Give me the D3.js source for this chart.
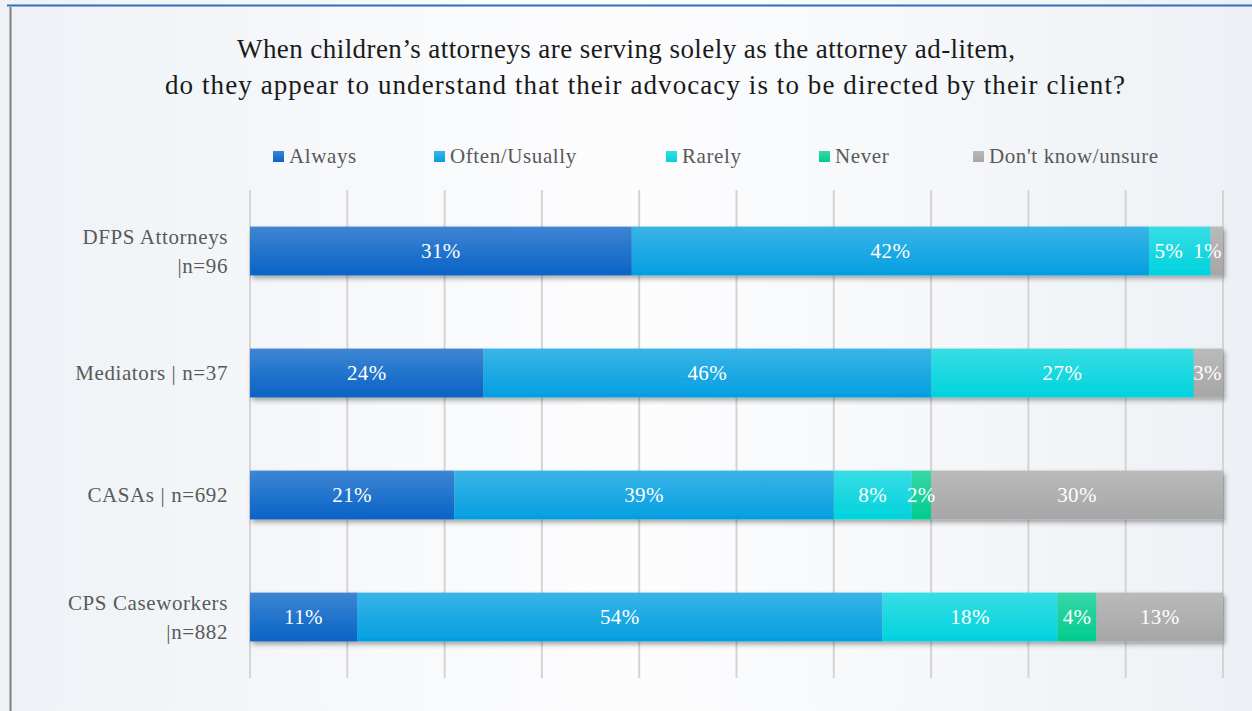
<!DOCTYPE html>
<html>
<head>
  <meta charset="utf-8">
  <title>Attorney ad-litem advocacy</title>
  <style>
    body { margin: 0; background: #fff; }
    text { font-family: "Liberation Serif", "DejaVu Serif", serif; }
    .grid line { stroke: #d4d4d4; stroke-width: 2; }
  </style>
  <script src="https://d3js.org/d3.v7.min.js"></script>
</head>
<body>
  <script>
    var groups = ["DFPS Attorneys\n|n=96", "Mediators | n=37", "CASAs | n=692", "CPS Caseworkers\n|n=882"];
    var series = ["Always", "Often/Usually", "Rarely", "Never", "Don't know/unsure"];
    var always = [31, 24, 21, 11];
    var often = [42, 46, 39, 54];
    var rarely = [5, 27, 8, 18];
    var never = [0, 0, 2, 4];
    var unsure = [1, 3, 30, 13];
    var colors = ["#0863c6", "#039fe0", "#00d3dd", "#00cc8e", "#a6a6a6"];
    var titleLines = ["When children\u2019s attorneys are serving solely as the attorney ad-litem,",
                      "do they appear to understand that their advocacy is to be directed by their client?"];

    var width = 1252, height = 711;
    var margin = {left: 250, right: 29, top: 190, bottom: 33};

    var rows = groups.map(function(g, i) {
      return {group: g, "Always": always[i], "Often/Usually": often[i], "Rarely": rarely[i],
              "Never": never[i], "Don't know/unsure": unsure[i]};
    });

    var stack = d3.stack().keys(series).offset(d3.stackOffsetExpand);
    var layers = stack(rows);

    var svg = d3.select("body").append("svg")
      .attr("width", width)
      .attr("height", height);

    var defs = svg.append("defs");
    var bg = defs.append("linearGradient").attr("id", "bg").attr("x1", 0).attr("x2", 1);
    bg.append("stop").attr("offset", "0").attr("stop-color", "#eef2f6");
    bg.append("stop").attr("offset", "0.5").attr("stop-color", "#fdfdfe");
    bg.append("stop").attr("offset", "1").attr("stop-color", "#edf1f5");

    colors.forEach(function(c, i) {
      var gr = defs.append("linearGradient").attr("id", "fill" + i)
        .attr("x1", 0).attr("x2", 0).attr("y1", 0).attr("y2", 1);
      gr.append("stop").attr("offset", "0").attr("stop-color", d3.interpolateRgb(c, "#fff")(0.22));
      gr.append("stop").attr("offset", "1").attr("stop-color", c);
    });

    var shadow = defs.append("filter").attr("id", "shadow")
      .attr("x", "-5%").attr("y", "-20%").attr("width", "110%").attr("height", "160%");
    shadow.append("feDropShadow")
      .attr("dx", 2).attr("dy", 3).attr("stdDeviation", 2.5)
      .attr("flood-color", "#000").attr("flood-opacity", 0.35);

    svg.append("rect").attr("width", width).attr("height", height).attr("fill", "url(#bg)");
    svg.append("line").attr("x1", 7).attr("x2", width).attr("y1", 5.5).attr("y2", 5.5)
      .attr("stroke", "#2f6fbd").attr("stroke-width", 2);
    svg.append("line").attr("x1", 10.5).attr("x2", 10.5).attr("y1", 7).attr("y2", height)
      .attr("stroke", "#7f7f7f").attr("stroke-width", 2);

    // title
    var titleWidths = [778, 960];
    svg.append("g").selectAll("text")
      .data(titleLines)
      .join("text")
        .attr("x", (d, i) => i ? 645 : 626)
        .attr("y", (d, i) => 58 + i * 36)
        .attr("text-anchor", "middle")
        .attr("font-size", 27)
        .attr("fill", "#1a1a1a")
        .attr("textLength", (d, i) => titleWidths[i])
        .attr("lengthAdjust", "spacing")
        .text(d => d);

    var x = d3.scaleLinear()
      .domain([0, 1])
      .range([margin.left, width - margin.right]);

    var y = d3.scaleBand()
      .domain(groups)
      .range([margin.top, height - margin.bottom])
      .paddingInner(0.6)
      .paddingOuter(0.3);

    svg.append("g")
      .attr("class", "grid")
      .selectAll("line")
      .data(x.ticks(10))
      .join("line")
        .attr("x1", d => x(d)).attr("x2", d => x(d))
        .attr("y1", margin.top).attr("y2", height - margin.bottom);

    // legend
    var legendX = [273, 434, 666, 819, 973];
    var legend = svg.append("g").selectAll("g")
      .data(series)
      .join("g")
        .attr("transform", (d, i) => "translate(" + legendX[i] + ",151)");
    legend.append("rect").attr("width", 11).attr("height", 11).attr("fill", (d, i) => "url(#fill" + i + ")");
    legend.append("text")
      .attr("x", 16).attr("y", 12)
      .attr("font-size", 21)
      .attr("letter-spacing", 0.6)
      .attr("fill", "#595959")
      .text(d => d);

    // category labels
    svg.append("g").selectAll("text")
      .data(groups)
      .join("text")
        .attr("text-anchor", "end")
        .attr("font-size", 21)
        .attr("letter-spacing", 0.6)
        .attr("fill", "#595959")
        .each(function(d) {
          var lines = d.split("\n");
          var cy = y(d) + y.bandwidth() / 2;
          d3.select(this).selectAll("tspan")
            .data(lines)
            .join("tspan")
              .attr("x", 228)
              .attr("y", (l, j) => cy + 7 + (j - (lines.length - 1) / 2) * 29)
              .text(l => l);
        });

    // bars
    var bars = svg.append("g").attr("filter", "url(#shadow)");
    layers.forEach(function(layer, i) {
      bars.selectAll(null)
        .data(layer)
        .join("rect")
          .attr("x", d => x(d[0]))
          .attr("y", d => y(d.data.group))
          .attr("width", d => x(d[1]) - x(d[0]))
          .attr("height", y.bandwidth())
          .attr("fill", "url(#fill" + i + ")");
    });

    // value labels, nudged left so they do not collide at the bar end
    var labelG = svg.append("g");
    rows.forEach(function(row, r) {
      var items = [];
      layers.forEach(function(layer) {
        var d = layer[r];
        var v = row[layer.key];
        if (v > 0) items.push({v: v, cx: (x(d[0]) + x(d[1])) / 2});
      });
      var texts = labelG.selectAll(null)
        .data(items)
        .join("text")
          .attr("text-anchor", "middle")
          .attr("font-size", 21)
          .attr("letter-spacing", 0.4)
          .attr("fill", "#fff")
          .attr("y", y(row.group) + y.bandwidth() / 2 + 7)
          .text(d => d.v + "%");
      texts.each(function(d) { d.w = this.getComputedTextLength(); });
      var limit = x(1) - 1;
      for (var k = items.length - 1; k >= 0; k--) {
        var it = items[k];
        if (it.cx + it.w / 2 > limit) it.cx = limit - it.w / 2;
        limit = it.cx - it.w / 2 - 10;
      }
      texts.attr("x", d => d.cx);
    });
  </script>
</body>
</html>
